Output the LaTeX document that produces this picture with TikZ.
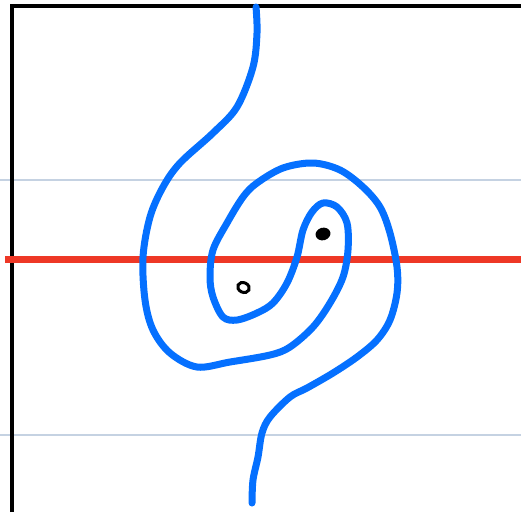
\documentclass[tikz,border=0pt]{standalone}
\definecolor{curveblue}{RGB}{5,112,255}
\definecolor{axisred}{RGB}{238,56,38}
\definecolor{gridgray}{RGB}{197,210,226}
\tikzset{
  gridline/.style={draw=gridgray, line width=1.6},
  redline/.style={draw=axisred, line width=7},
  frameline/.style={draw=black, line width=3.6},
  bluecurve/.style={draw=curveblue, line width=7, line cap=round, line join=round},
}
\begin{document}
\begin{tikzpicture}[x=1pt,y=-1pt]
\useasboundingbox (0,0) rectangle (521,512);
\fill[white] (0,0) rectangle (521,512);
\draw[gridline] (0,180) -- (521,180);
\draw[gridline] (0,435) -- (521,435);
\draw[frameline] (11.8,512) -- (11.8,6) -- (521,6);
\draw[redline] (5,259) -- (521,259);
\draw[bluecurve] plot[smooth, tension=0.55] coordinates {
(256,7)(257,33)(253,67)(237,107)(213,133)(180,163)(163,187)(150,217)(143,257)(145,300)(153,330)(170,353)(197,367)(230,362)(270,355)(290,347)(313,327)(330,303)(343,277)(348,250)(347,223)(337,207)(323,203)(312,212)(303,230)(297,257)(287,283)(273,303)(257,313)(237,320)(223,317)(213,297)(210,277)(213,250)(227,223)(243,197)(257,183)(283,168)(313,163)(340,170)(363,187)(380,207)(390,233)(397,267)(397,293)(390,320)(377,340)(357,357)(333,373)(307,388)(290,397)(270,417)(262,433)(258,457)(253,480)(252,503)};
\draw[black, line width=3, rotate around={-25:(243.5,287.5)}] (243.5,287.5) ellipse [x radius=6, y radius=4.8];
\fill[black, rotate around={15:(323,234)}] (323,234) ellipse [x radius=7.5, y radius=6.3];
\end{tikzpicture}
\end{document}
